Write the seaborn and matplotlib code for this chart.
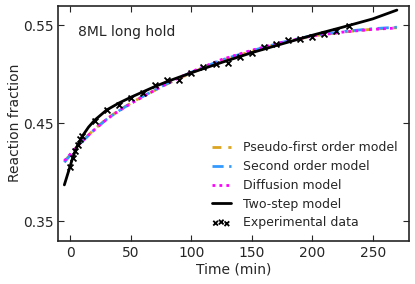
import numpy as np
import pandas as pd
import matplotlib
matplotlib.use('Agg')
import matplotlib.pyplot as plt
import seaborn as sns

sns.set_style("ticks", {
    'xtick.direction': 'in',
    'ytick.direction': 'in',
    'xtick.top': True,
    'ytick.right': True,
})
plt.rcParams['font.family'] = ['DejaVu Sans']
plt.rcParams['font.size'] = 10

# experimental data
t_exp = [0, 2, 4, 6, 8, 10, 20, 30, 40, 50, 60, 70, 80, 90, 100, 110, 120,
         130, 140, 150, 160, 170, 180, 190, 200, 210, 220, 230]
y_exp = [0.405, 0.414, 0.422, 0.428, 0.434, 0.437, 0.452, 0.463, 0.469,
         0.4755, 0.4806, 0.4885, 0.4936, 0.4946, 0.5008, 0.5073, 0.5107,
         0.5117, 0.5179, 0.522, 0.5281, 0.5305, 0.5349, 0.5363, 0.5384,
         0.5408, 0.5442, 0.5493]

# model curves
t_model = [-5, 0, 5, 10, 20, 30, 40, 50, 60, 80, 100, 125, 150, 175, 200,
           225, 250, 270]
y_first = [0.411, 0.418, 0.4255, 0.432, 0.444, 0.4545, 0.463, 0.4705, 0.4775,
           0.490, 0.5015, 0.514, 0.5235, 0.532, 0.539, 0.543, 0.546, 0.5475]
y_second = [0.410, 0.4175, 0.425, 0.4315, 0.4435, 0.454, 0.4625, 0.4705,
            0.4775, 0.4905, 0.502, 0.5145, 0.524, 0.5325, 0.5395, 0.5435,
            0.5465, 0.548]
y_diff = [0.4115, 0.4185, 0.4255, 0.432, 0.4435, 0.454, 0.4625, 0.470,
          0.477, 0.4905, 0.5025, 0.515, 0.5245, 0.5325, 0.539, 0.543,
          0.5458, 0.5472]

t_two = [-5, -2, 0, 2, 5, 10, 15, 20, 30, 40, 50, 60, 70, 80, 100, 125, 150,
         175, 200, 225, 250, 270]
y_two = [0.387, 0.399, 0.407, 0.415, 0.425, 0.437, 0.446, 0.453, 0.4635,
         0.4705, 0.4765, 0.482, 0.4875, 0.4925, 0.5015, 0.512, 0.522, 0.531,
         0.5398, 0.548, 0.5565, 0.5655]

df_exp = pd.DataFrame({'t': t_exp, 'y': y_exp})

fig, ax = plt.subplots(figsize=(4.15, 2.84), dpi=100)

sns.lineplot(x=t_model, y=y_first, ax=ax, color='#DAA520', lw=2,
             linestyle=(0, (3.2, 2.5)), label='Pseudo-first order model')
sns.lineplot(x=t_model, y=y_second, ax=ax, color='#3399FF', lw=2,
             linestyle=(0, (4, 2, 1, 2)), label='Second order model')
sns.lineplot(x=t_model, y=y_diff, ax=ax, color='#FF00FF', lw=2,
             linestyle=(0, (1, 1.5)), label='Diffusion model')
sns.lineplot(x=t_two, y=y_two, ax=ax, color='black', lw=2,
             label='Two-step model')
ax.scatter(df_exp['t'], df_exp['y'], marker='x', color='black', s=18,
           linewidths=1.3, label='Experimental data', zorder=5)

ax.set_xlim(-10, 280)
ax.set_ylim(0.33, 0.57)
ax.set_xticks([0, 50, 100, 150, 200, 250])
ax.set_yticks([0.35, 0.45, 0.55])
ax.set_yticklabels(['0.35', '0.45', '0.55'])
ax.tick_params(labelsize=10, length=4, width=0.8)
for s in ax.spines.values():
    s.set_linewidth(1.2)

ax.set_xlabel('Time (min)', fontsize=10, labelpad=2)
ax.set_ylabel('Reaction fraction', fontsize=10, labelpad=0.5)
ax.text(0.055, 0.89, '8ML long hold', transform=ax.transAxes, fontsize=10,
        va='center', ha='left')

ax.legend(loc='lower right', frameon=False, fontsize=9, handlelength=1.5,
          handletextpad=1.0, labelspacing=0.46, scatterpoints=3,
          scatteryoffsets=[0.375, 0.5, 0.3125], markerscale=0.8,
          borderaxespad=0.5)

plt.subplots_adjust(left=0.1405, right=0.9855, top=0.98, bottom=0.1525)
plt.savefig('out.png', dpi=100)
